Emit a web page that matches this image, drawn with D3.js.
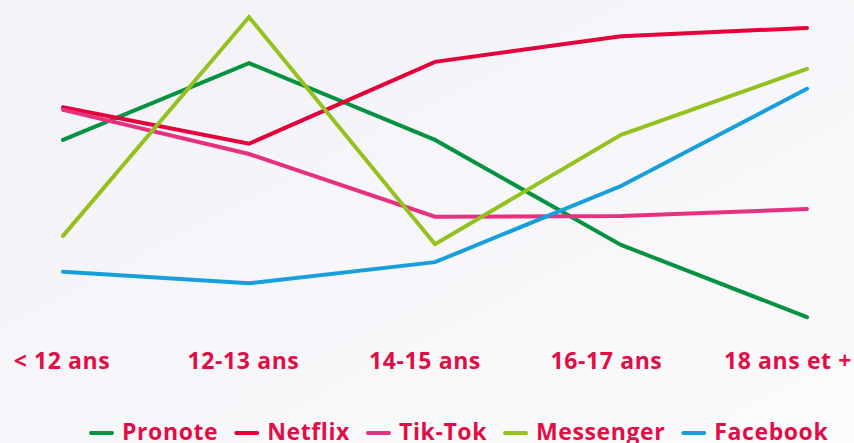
<!DOCTYPE html>
<html>
<head>
<meta charset="utf-8">
<script src="https://cdn.jsdelivr.net/npm/d3@7"></script>
<style>
  html, body { margin: 0; padding: 0; }
  body { width: 854px; height: 443px; overflow: hidden; }
  text { font-family: "Open Sans", Lato, sans-serif; font-weight: 700; fill: #e30d45; letter-spacing: 0.6px; }
</style>
</head>
<body>
<svg id="chart"></svg>
<script>
// age groups
const ages = ['< 12 ans', '12-13 ans', '14-15 ans', '16-17 ans', '18 ans et +'];

// values (no axis shown, approx %)
const pronote   = [29.7, 41.7, 29.7, 13.3, 2.0];
const netflix   = [34.8, 29.1, 41.9, 45.9, 47.2];
const tiktok    = [34.4, 27.5, 17.7, 17.8, 18.9];
const messenger = [14.7, 48.9, 13.4, 30.5, 40.8];
const facebook  = [9.1, 7.3, 10.6, 22.5, 37.7];

const seriesNames = ['Pronote', 'Netflix', 'Tik-Tok', 'Messenger', 'Facebook'];
const seriesColors = ['#079241', '#e4003b', '#e5317f', '#95c11f', '#179fdb'];

const series = [pronote, netflix, tiktok, messenger, facebook].map((vals, i) => ({
    name: seriesNames[i],
    color: seriesColors[i],
    values: vals
}));

const width = 854;
const height = 443;

const svg = d3.select('#chart')
    .attr('width', width)
    .attr('height', height);

// light background wash
const defs = svg.append('defs');
const grad = defs.append('linearGradient')
    .attr('id', 'bg')
    .attr('x1', 0).attr('y1', 0).attr('x2', 1).attr('y2', 1);
grad.append('stop').attr('offset', '0%').attr('stop-color', '#f2f2f7');
grad.append('stop').attr('offset', '100%').attr('stop-color', '#fbfbfd');
svg.append('rect')
    .attr('width', width)
    .attr('height', height)
    .attr('fill', 'url(#bg)');

const x = d3.scalePoint()
    .domain(ages)
    .range([63, 807]);

// labels sit on a slightly narrower spread so the last one fits
const xLabel = d3.scalePoint()
    .domain(ages)
    .range([62, 788]);

const y = d3.scaleLinear()
    .domain([0, 50])
    .range([330, 10]);

const line = d3.line()
    .x((d, i) => x(ages[i]))
    .y(d => y(d));

svg.append('g')
    .selectAll('path')
    .data(series)
    .enter()
    .append('path')
    .attr('d', d => line(d.values))
    .attr('fill', 'none')
    .attr('stroke', d => d.color)
    .attr('stroke-width', 4)
    .attr('stroke-linejoin', 'miter')
    .attr('stroke-linecap', 'round');

// x labels (no axis line)
svg.append('g')
    .selectAll('text')
    .data(ages)
    .enter()
    .append('text')
    .attr('x', d => xLabel(d))
    .attr('y', 369)
    .attr('text-anchor', 'middle')
    .style('font-size', '23px')
    .text(d => d);

// legend
const legend = svg.append('g');
const items = legend.selectAll('g')
    .data(series)
    .enter()
    .append('g');

items.append('line')
    .attr('x1', 1).attr('x2', 22)
    .attr('y1', 433).attr('y2', 433)
    .attr('stroke', d => d.color)
    .attr('stroke-width', 4)
    .attr('stroke-linecap', 'round');

items.append('text')
    .attr('x', 32)
    .attr('y', 440)
    .style('font-size', '23px')
    .text(d => d.name);

let lx = 90;
items.each(function () {
    d3.select(this).attr('transform', `translate(${lx},0)`);
    const w = d3.select(this).select('text').node().getComputedTextLength();
    lx += 32 + w + 17;
});
</script>
</body>
</html>
